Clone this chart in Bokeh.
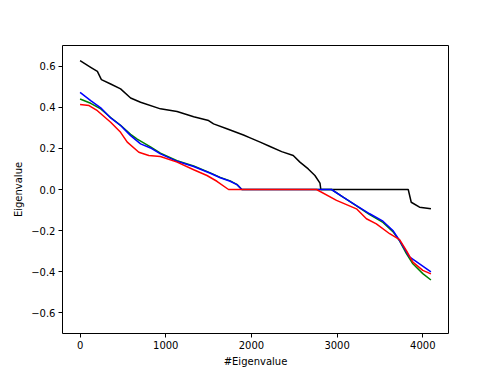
from bokeh.plotting import figure
from bokeh.models import FixedTicker, Range1d
from bokeh.embed import file_html
from bokeh.resources import INLINE

black_x = [0, 124, 202, 249, 357, 473, 590, 706, 938, 1132, 1326, 1500, 1558, 1713, 1907, 1985, 2102, 2217, 2353, 2488, 2566, 2663, 2741, 2800, 2810, 3830, 3865, 3962, 4095]
black_y = [0.626, 0.594, 0.574, 0.534, 0.513, 0.489, 0.445, 0.424, 0.392, 0.379, 0.354, 0.335, 0.319, 0.295, 0.265, 0.251, 0.23, 0.209, 0.184, 0.165, 0.133, 0.100, 0.068, 0.031, 0.0, 0.0, -0.062, -0.086, -0.094]

green_x = [0, 124, 241, 357, 473, 590, 667, 822, 938, 1132, 1326, 1520, 1636, 1752, 1830, 1888, 2935, 3070, 3226, 3380, 3535, 3651, 3729, 3807, 3884, 4000, 4095]
green_y = [0.440, 0.419, 0.392, 0.350, 0.312, 0.268, 0.245, 0.207, 0.177, 0.140, 0.114, 0.081, 0.059, 0.042, 0.025, 0.0, 0.0, -0.037, -0.080, -0.122, -0.160, -0.205, -0.25, -0.31, -0.361, -0.409, -0.44]

blue_x = [0, 124, 241, 357, 473, 590, 706, 822, 938, 1132, 1326, 1520, 1636, 1752, 1830, 1888, 2935, 3070, 3226, 3380, 3535, 3651, 3729, 3845, 3962, 4095]
blue_y = [0.472, 0.432, 0.397, 0.348, 0.311, 0.262, 0.222, 0.202, 0.173, 0.137, 0.112, 0.079, 0.057, 0.040, 0.024, 0.0, 0.0, -0.037, -0.078, -0.118, -0.154, -0.199, -0.248, -0.328, -0.361, -0.40]

red_x = [0, 105, 202, 357, 473, 551, 686, 802, 938, 1132, 1326, 1481, 1597, 1733, 2760, 2993, 3226, 3342, 3458, 3613, 3729, 3807, 3884, 4000, 4095]
red_y = [0.413, 0.408, 0.383, 0.327, 0.278, 0.230, 0.181, 0.165, 0.160, 0.133, 0.096, 0.068, 0.040, 0.0, 0.0, -0.053, -0.094, -0.142, -0.167, -0.215, -0.244, -0.296, -0.353, -0.393, -0.41]

x_ticks = [0, 1000, 2000, 3000, 4000]
y_ticks = [-0.6, -0.4, -0.2, 0.0, 0.2, 0.4, 0.6]
y_labels = ["\u22120.6", "\u22120.4", "\u22120.2", "0.0", "0.2", "0.4", "0.6"]

p = figure(width=490, height=370, output_backend="svg", toolbar_location=None,
           x_range=Range1d(-205, 4300), y_range=Range1d(-0.7, 0.7),
           min_border_left=62, min_border_right=42, min_border_top=45, min_border_bottom=37)

p.line(black_x, black_y, line_color="black", line_width=1.5)
p.line(green_x, green_y, line_color="#008000", line_width=1.5)
p.line(blue_x, blue_y, line_color="#0000ff", line_width=1.5)
p.line(red_x, red_y, line_color="#ff0000", line_width=1.5)

p.grid.visible = False
p.outline_line_color = "black"
p.outline_line_width = 1

p.xaxis.ticker = FixedTicker(ticks=x_ticks)
p.yaxis.ticker = FixedTicker(ticks=y_ticks)
p.yaxis.major_label_overrides = {t: l for t, l in zip(y_ticks, y_labels)}
p.xaxis.axis_label = "#Eigenvalue"
p.yaxis.axis_label = "Eigenvalue"
for ax in (p.xaxis[0], p.yaxis[0]):
    ax.axis_line_color = None
    ax.minor_tick_line_color = None
    ax.major_tick_out = 4
    ax.major_tick_in = 0
    ax.major_tick_line_color = "black"
    ax.major_label_text_font = "DejaVu Sans"
    ax.major_label_text_font_size = "10px"
    ax.major_label_text_color = "black"
    ax.axis_label_text_font = "DejaVu Sans"
    ax.axis_label_text_font_size = "10px"
    ax.axis_label_text_font_style = "normal"
    ax.axis_label_text_color = "black"
    ax.major_label_standoff = 3
    ax.axis_label_standoff = 4

open("out.html", "w").write(file_html(p, INLINE))
